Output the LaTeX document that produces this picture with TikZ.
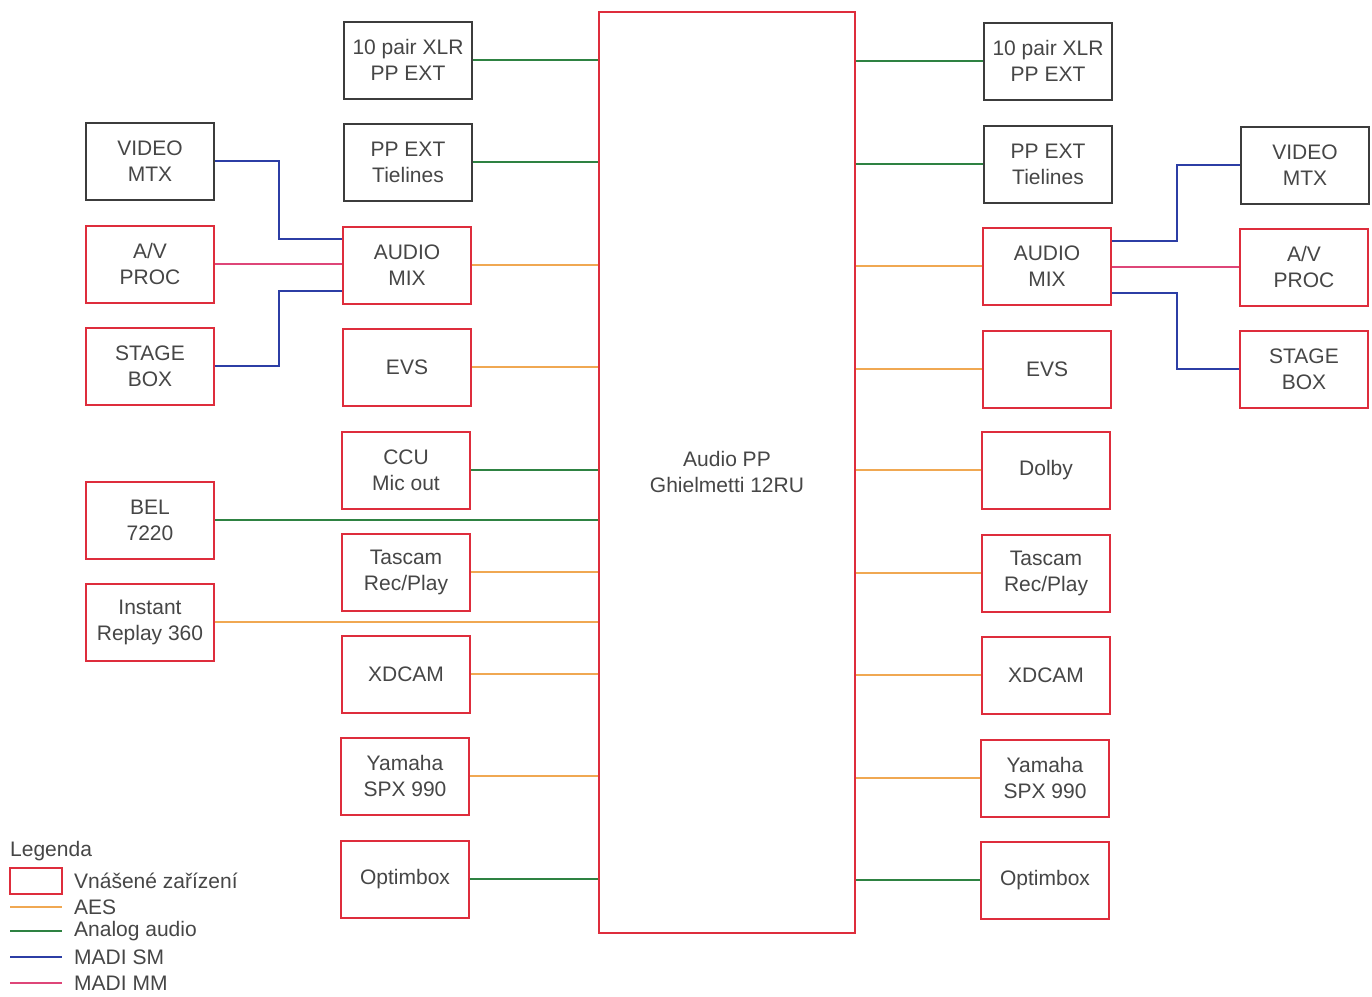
\documentclass[tikz,border=0pt]{standalone}
\usepackage{fontspec}
\setmainfont{Liberation Sans}
\usetikzlibrary{positioning,calc}
\definecolor{LineGreen}{RGB}{46,130,66}
\definecolor{LineOrange}{RGB}{240,168,82}
\definecolor{LineBlue}{RGB}{44,62,165}
\definecolor{LinePink}{RGB}{222,70,120}
\definecolor{BoxRed}{RGB}{222,45,60}
\definecolor{BoxGray}{RGB}{60,60,60}
\definecolor{TextGray}{RGB}{70,70,70}
\tikzset{
  dev/.style={draw=BoxGray,line width=2pt,minimum width=128pt,
    minimum height=77pt,align=center,text=TextGray,inner sep=0pt,
    font=\fontsize{21}{26}\selectfont},
  ext/.style={dev,draw=BoxRed},
  legtext/.style={anchor=west,text=TextGray,inner sep=0pt,
    font=\fontsize{21}{26}\selectfont},
  aes/.style={LineOrange,line width=1.8pt},
  analog/.style={LineGreen,line width=1.8pt},
  madism/.style={LineBlue,line width=1.8pt},
  madimm/.style={LinePink,line width=1.8pt}
}

\begin{document}
\begin{tikzpicture}[x=1pt,y=-1pt]
  \useasboundingbox[fill=white] (0,0) rectangle (1372,996);

  % central patch panel
  \node[ext,minimum width=256pt,minimum height=921pt] (pp) at (727,472)
    {Audio PP\\Ghielmetti 12RU};

  % left column
  \node[dev] (xlrL) at (408,60) {10 pair XLR\\PP EXT};
  \node[dev] (tieL) at (408,162) {PP EXT\\Tielines};
  \node[ext] (mixL) at (407,265) {AUDIO\\MIX};
  \node[ext] (evsL) at (407,367) {EVS};
  \node[ext] (ccuL) at (406,470) {CCU\\Mic out};
  \node[ext] (tasL) at (406,572) {Tascam\\Rec/Play};
  \node[ext] (xdcL) at (406,674) {XDCAM};
  \node[ext] (yamL) at (405,776) {Yamaha\\SPX 990};
  \node[ext] (optL) at (405,879) {Optimbox};

  % far left
  \node[dev] (vidL) at (150,161) {VIDEO\\MTX};
  \node[ext] (avpL) at (150,264) {A/V\\PROC};
  \node[ext] (stgL) at (150,366) {STAGE\\BOX};
  \node[ext] (bel) at (150,520) {BEL\\7220};
  \node[ext] (irp) at (150,622) {Instant\\Replay 360};

  % right column
  \node[dev] (xlrR) at (1048,61) {10 pair XLR\\PP EXT};
  \node[dev] (tieR) at (1048,164) {PP EXT\\Tielines};
  \node[ext] (mixR) at (1047,266) {AUDIO\\MIX};
  \node[ext] (evsR) at (1047,369) {EVS};
  \node[ext] (dolR) at (1046,470) {Dolby};
  \node[ext] (tasR) at (1046,573) {Tascam\\Rec/Play};
  \node[ext] (xdcR) at (1046,675) {XDCAM};
  \node[ext] (yamR) at (1045,778) {Yamaha\\SPX 990};
  \node[ext] (optR) at (1045,880) {Optimbox};

  % far right
  \node[dev] (vidR) at (1305,165) {VIDEO\\MTX};
  \node[ext] (avpR) at (1304,267) {A/V\\PROC};
  \node[ext] (stgR) at (1304,369) {STAGE\\BOX};

  % links into the patch panel
  \foreach \n in {xlrL,tieL,ccuL,bel,optL}
    \draw[analog] (\n.east) -- (\n.east -| pp.west);
  \foreach \n in {mixL,evsL,tasL,irp,xdcL,yamL}
    \draw[aes] (\n.east) -- (\n.east -| pp.west);
  \foreach \n in {xlrR,tieR,optR}
    \draw[analog] (\n.west) -- (\n.west -| pp.east);
  \foreach \n in {mixR,evsR,dolR,tasR,xdcR,yamR}
    \draw[aes] (\n.west) -- (\n.west -| pp.east);

  % MADI links to the audio mixers
  \draw[madism] (vidL.east) -- ++(64,0) |- ([yshift=26pt]mixL.west);
  \draw[madimm] (avpL.east) -- (avpL.east -| mixL.west);
  \draw[madism] (stgL.east) -- ++(64,0) |- ([yshift=-26pt]mixL.west);
  \draw[madism] ([yshift=25pt]mixR.east) -- ++(65,0) |- (vidR.west);
  \draw[madimm] ([yshift=-1pt]mixR.east) -- ([yshift=-1pt]mixR.east -| avpR.west);
  \draw[madism] ([yshift=-27pt]mixR.east) -- ++(65,0) |- (stgR.west);

  % legend
  \node[legtext] (leg) at (10,851) {Legenda};
  \node[draw=BoxRed,line width=2pt,minimum width=52pt,minimum height=26pt,
    inner sep=0pt] (legbox) at (36,881) {};
  \node[legtext] (legext) at (74,881) {Vnášené zařízení};
  \node[legtext] (legaes) at (74,907) {AES};
  \node[legtext] (legana) at (74,931) {Analog audio};
  \node[legtext] (legsm) at (74,957) {MADI SM};
  \node[legtext] (legmm) at (74,983) {MADI MM};
  \draw[aes] (10,907) -- (62,907);
  \draw[analog] (10,931) -- (62,931);
  \draw[madism] (10,957) -- (62,957);
  \draw[madimm] (10,983) -- (62,983);
\end{tikzpicture}
\end{document}
